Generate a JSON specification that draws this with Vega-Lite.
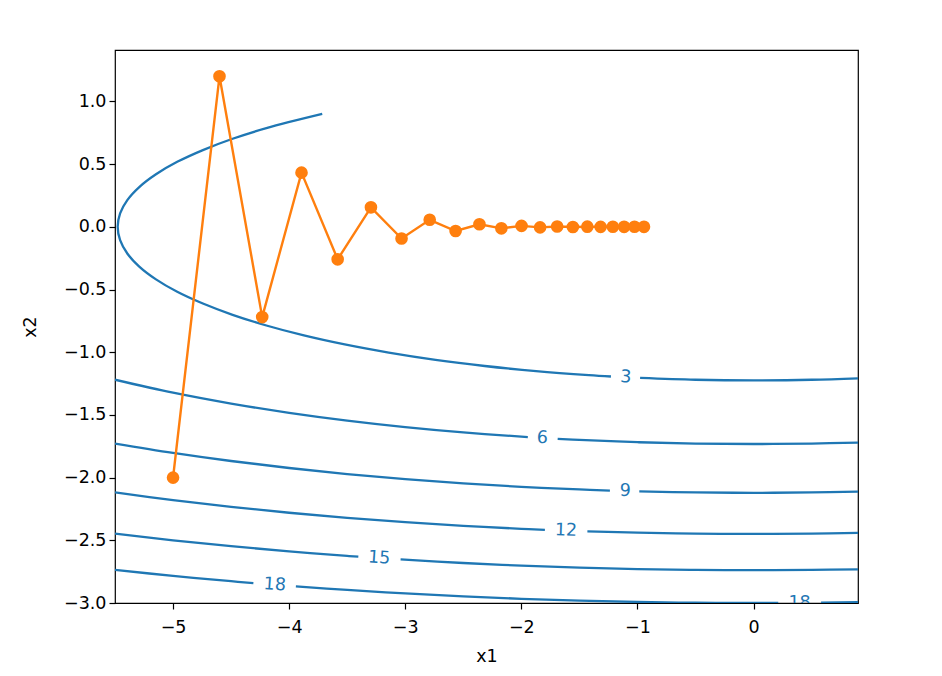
{
  "$schema": "https://vega.github.io/schema/vega-lite/v6.json",
  "autosize": {"type": "none"},
  "width": 743,
  "height": 553,
  "padding": {"left": 115, "top": 50, "right": 84, "bottom": 73},
  "background": "white",
  "config": {
    "view": {"stroke": "black", "strokeWidth": 1.2},
    "font": "DejaVu Sans",
    "axis": {
      "grid": false,
      "domain": false,
      "tickColor": "black",
      "tickWidth": 1.2,
      "tickSize": 6,
      "labelFont": "DejaVu Sans",
      "labelFontSize": 17.5,
      "labelColor": "black",
      "labelPadding": 6,
      "titleFont": "DejaVu Sans",
      "titleFontSize": 17.5,
      "titleFontWeight": "normal",
      "titleColor": "black"
    }
  },
  "datasets": {
    "contours": [
      {"level": 3, "seg": "3a", "i": 1, "x1": -3.715, "x2": 0.9},
      {"level": 3, "seg": "3a", "i": 2, "x1": -4.196, "x2": 0.787},
      {"level": 3, "seg": "3a", "i": 3, "x1": -4.487, "x2": 0.702},
      {"level": 3, "seg": "3a", "i": 4, "x1": -4.743, "x2": 0.612},
      {"level": 3, "seg": "3a", "i": 5, "x1": -4.964, "x2": 0.518},
      {"level": 3, "seg": "3a", "i": 6, "x1": -5.147, "x2": 0.419},
      {"level": 3, "seg": "3a", "i": 7, "x1": -5.291, "x2": 0.317},
      {"level": 3, "seg": "3a", "i": 8, "x1": -5.394, "x2": 0.213},
      {"level": 3, "seg": "3a", "i": 9, "x1": -5.456, "x2": 0.107},
      {"level": 3, "seg": "3a", "i": 10, "x1": -5.477, "x2": 0},
      {"level": 3, "seg": "3a", "i": 11, "x1": -5.456, "x2": -0.107},
      {"level": 3, "seg": "3a", "i": 12, "x1": -5.394, "x2": -0.213},
      {"level": 3, "seg": "3a", "i": 13, "x1": -5.291, "x2": -0.317},
      {"level": 3, "seg": "3a", "i": 14, "x1": -5.147, "x2": -0.419},
      {"level": 3, "seg": "3a", "i": 15, "x1": -4.964, "x2": -0.518},
      {"level": 3, "seg": "3a", "i": 16, "x1": -4.743, "x2": -0.612},
      {"level": 3, "seg": "3a", "i": 17, "x1": -4.487, "x2": -0.702},
      {"level": 3, "seg": "3a", "i": 18, "x1": -4.196, "x2": -0.787},
      {"level": 3, "seg": "3a", "i": 19, "x1": -3.873, "x2": -0.866},
      {"level": 3, "seg": "3a", "i": 20, "x1": -3.521, "x2": -0.938},
      {"level": 3, "seg": "3a", "i": 21, "x1": -3.142, "x2": -1.003},
      {"level": 3, "seg": "3a", "i": 22, "x1": -2.739, "x2": -1.061},
      {"level": 3, "seg": "3a", "i": 23, "x1": -2.315, "x2": -1.11},
      {"level": 3, "seg": "3a", "i": 24, "x1": -1.873, "x2": -1.151},
      {"level": 3, "seg": "3a", "i": 25, "x1": -1.418, "x2": -1.183},
      {"level": 3, "seg": "3a", "i": 26, "x1": -1.228, "x2": -1.1936},
      {"level": 3, "seg": "3b", "i": 27, "x1": -0.977, "x2": -1.2051},
      {"level": 3, "seg": "3b", "i": 28, "x1": -0.5, "x2": -1.2196},
      {"level": 3, "seg": "3b", "i": 29, "x1": 0, "x2": -1.2247},
      {"level": 3, "seg": "3b", "i": 30, "x1": 0.5, "x2": -1.2196},
      {"level": 3, "seg": "3b", "i": 31, "x1": 0.9, "x2": -1.208},

      {"level": 6, "seg": "6a", "i": 1, "x1": -5.5, "x2": -1.2196},
      {"level": 6, "seg": "6a", "i": 2, "x1": -5, "x2": -1.3229},
      {"level": 6, "seg": "6a", "i": 3, "x1": -4.5, "x2": -1.4098},
      {"level": 6, "seg": "6a", "i": 4, "x1": -4, "x2": -1.4832},
      {"level": 6, "seg": "6a", "i": 5, "x1": -3.5, "x2": -1.5452},
      {"level": 6, "seg": "6a", "i": 6, "x1": -3, "x2": -1.5969},
      {"level": 6, "seg": "6a", "i": 7, "x1": -2.5, "x2": -1.6394},
      {"level": 6, "seg": "6a", "i": 8, "x1": -2, "x2": -1.6733},
      {"level": 6, "seg": "6a", "i": 9, "x1": -1.944, "x2": -1.6766},
      {"level": 6, "seg": "6b", "i": 10, "x1": -1.687, "x2": -1.6905},
      {"level": 6, "seg": "6b", "i": 11, "x1": -1.5, "x2": -1.6993},
      {"level": 6, "seg": "6b", "i": 12, "x1": -1, "x2": -1.7176},
      {"level": 6, "seg": "6b", "i": 13, "x1": -0.5, "x2": -1.7285},
      {"level": 6, "seg": "6b", "i": 14, "x1": 0, "x2": -1.7321},
      {"level": 6, "seg": "6b", "i": 15, "x1": 0.5, "x2": -1.7285},
      {"level": 6, "seg": "6b", "i": 16, "x1": 0.9, "x2": -1.7203},

      {"level": 9, "seg": "9a", "i": 1, "x1": -5.5, "x2": -1.7284},
      {"level": 9, "seg": "9a", "i": 2, "x1": -5, "x2": -1.8028},
      {"level": 9, "seg": "9a", "i": 3, "x1": -4.5, "x2": -1.8675},
      {"level": 9, "seg": "9a", "i": 4, "x1": -4, "x2": -1.9235},
      {"level": 9, "seg": "9a", "i": 5, "x1": -3.5, "x2": -1.9717},
      {"level": 9, "seg": "9a", "i": 6, "x1": -3, "x2": -2.0125},
      {"level": 9, "seg": "9a", "i": 7, "x1": -2.5, "x2": -2.0463},
      {"level": 9, "seg": "9a", "i": 8, "x1": -2, "x2": -2.0736},
      {"level": 9, "seg": "9a", "i": 9, "x1": -1.5, "x2": -2.0946},
      {"level": 9, "seg": "9a", "i": 10, "x1": -1.237, "x2": -2.1032},
      {"level": 9, "seg": "9b", "i": 11, "x1": -0.984, "x2": -2.1099},
      {"level": 9, "seg": "9b", "i": 12, "x1": -0.5, "x2": -2.1184},
      {"level": 9, "seg": "9b", "i": 13, "x1": 0, "x2": -2.1213},
      {"level": 9, "seg": "9b", "i": 14, "x1": 0.5, "x2": -2.1184},
      {"level": 9, "seg": "9b", "i": 15, "x1": 0.9, "x2": -2.1118},

      {"level": 12, "seg": "12a", "i": 1, "x1": -5.5, "x2": -2.1184},
      {"level": 12, "seg": "12a", "i": 2, "x1": -5, "x2": -2.1794},
      {"level": 12, "seg": "12a", "i": 3, "x1": -4.5, "x2": -2.2333},
      {"level": 12, "seg": "12a", "i": 4, "x1": -4, "x2": -2.2804},
      {"level": 12, "seg": "12a", "i": 5, "x1": -3.5, "x2": -2.3211},
      {"level": 12, "seg": "12a", "i": 6, "x1": -3, "x2": -2.3558},
      {"level": 12, "seg": "12a", "i": 7, "x1": -2.5, "x2": -2.3848},
      {"level": 12, "seg": "12a", "i": 8, "x1": -2, "x2": -2.4083},
      {"level": 12, "seg": "12a", "i": 9, "x1": -1.797, "x2": -2.4163},
      {"level": 12, "seg": "12b", "i": 10, "x1": -1.431, "x2": -2.4285},
      {"level": 12, "seg": "12b", "i": 11, "x1": -1, "x2": -2.4393},
      {"level": 12, "seg": "12b", "i": 12, "x1": -0.5, "x2": -2.4469},
      {"level": 12, "seg": "12b", "i": 13, "x1": 0, "x2": -2.4495},
      {"level": 12, "seg": "12b", "i": 14, "x1": 0.5, "x2": -2.4469},
      {"level": 12, "seg": "12b", "i": 15, "x1": 0.9, "x2": -2.4412},

      {"level": 15, "seg": "15a", "i": 1, "x1": -5.5, "x2": -2.4469},
      {"level": 15, "seg": "15a", "i": 2, "x1": -5, "x2": -2.5},
      {"level": 15, "seg": "15a", "i": 3, "x1": -4.5, "x2": -2.5471},
      {"level": 15, "seg": "15a", "i": 4, "x1": -4, "x2": -2.5884},
      {"level": 15, "seg": "15a", "i": 5, "x1": -3.5, "x2": -2.6244},
      {"level": 15, "seg": "15a", "i": 6, "x1": -3.404, "x2": -2.6307},
      {"level": 15, "seg": "15b", "i": 7, "x1": -3.04, "x2": -2.6529},
      {"level": 15, "seg": "15b", "i": 8, "x1": -2.5, "x2": -2.681},
      {"level": 15, "seg": "15b", "i": 9, "x1": -2, "x2": -2.7019},
      {"level": 15, "seg": "15b", "i": 10, "x1": -1.5, "x2": -2.718},
      {"level": 15, "seg": "15b", "i": 11, "x1": -1, "x2": -2.7295},
      {"level": 15, "seg": "15b", "i": 12, "x1": -0.5, "x2": -2.7363},
      {"level": 15, "seg": "15b", "i": 13, "x1": 0, "x2": -2.7386},
      {"level": 15, "seg": "15b", "i": 14, "x1": 0.5, "x2": -2.7363},
      {"level": 15, "seg": "15b", "i": 15, "x1": 0.9, "x2": -2.7312},

      {"level": 18, "seg": "18a", "i": 1, "x1": -5.5, "x2": -2.7363},
      {"level": 18, "seg": "18a", "i": 2, "x1": -5, "x2": -2.7839},
      {"level": 18, "seg": "18a", "i": 3, "x1": -4.5, "x2": -2.8262},
      {"level": 18, "seg": "18a", "i": 4, "x1": -4.308, "x2": -2.8411},
      {"level": 18, "seg": "18b", "i": 5, "x1": -3.942, "x2": -2.8676},
      {"level": 18, "seg": "18b", "i": 6, "x1": -3.5, "x2": -2.8961},
      {"level": 18, "seg": "18b", "i": 7, "x1": -3, "x2": -2.924},
      {"level": 18, "seg": "18b", "i": 8, "x1": -2.5, "x2": -2.9475},
      {"level": 18, "seg": "18b", "i": 9, "x1": -2, "x2": -2.9665},
      {"level": 18, "seg": "18b", "i": 10, "x1": -1.5, "x2": -2.9812},
      {"level": 18, "seg": "18b", "i": 11, "x1": -1, "x2": -2.9917},
      {"level": 18, "seg": "18b", "i": 12, "x1": -0.5, "x2": -2.9979},
      {"level": 18, "seg": "18b", "i": 13, "x1": 0, "x2": -3.0},
      {"level": 18, "seg": "18b", "i": 14, "x1": 0.213, "x2": -2.9996},
      {"level": 18, "seg": "18c", "i": 15, "x1": 0.582, "x2": -2.9972},
      {"level": 18, "seg": "18c", "i": 16, "x1": 0.9, "x2": -2.9932}
    ],
    "labels": [
      {"label": "3", "group": "a", "x1": -1.1, "x2": -1.1998},
      {"label": "6", "group": "a", "x1": -1.82, "x2": -1.6843},
      {"label": "9", "group": "b", "x1": -1.105, "x2": -2.1069},
      {"label": "12", "group": "b", "x1": -1.615, "x2": -2.4227},
      {"label": "15", "group": "c", "x1": -3.224, "x2": -2.642},
      {"label": "18", "group": "c", "x1": -4.124, "x2": -2.8548},
      {"label": "18", "group": "d", "x1": 0.397, "x2": -2.9984}
    ],
    "path": [
      {"k": 0, "x1": -5.0, "x2": -2.0},
      {"k": 1, "x1": -4.6, "x2": 1.2},
      {"k": 2, "x1": -4.232, "x2": -0.72},
      {"k": 3, "x1": -3.8934, "x2": 0.432},
      {"k": 4, "x1": -3.582, "x2": -0.2592},
      {"k": 5, "x1": -3.2954, "x2": 0.1555},
      {"k": 6, "x1": -3.0318, "x2": -0.0933},
      {"k": 7, "x1": -2.7892, "x2": 0.056},
      {"k": 8, "x1": -2.5661, "x2": -0.0336},
      {"k": 9, "x1": -2.3608, "x2": 0.0202},
      {"k": 10, "x1": -2.1719, "x2": -0.0121},
      {"k": 11, "x1": -1.9982, "x2": 0.0073},
      {"k": 12, "x1": -1.8383, "x2": -0.0044},
      {"k": 13, "x1": -1.6913, "x2": 0.0026},
      {"k": 14, "x1": -1.556, "x2": -0.0016},
      {"k": 15, "x1": -1.4315, "x2": 0.0009},
      {"k": 16, "x1": -1.317, "x2": -0.0006},
      {"k": 17, "x1": -1.2116, "x2": 0.0003},
      {"k": 18, "x1": -1.1147, "x2": -0.0002},
      {"k": 19, "x1": -1.0255, "x2": 0.0001},
      {"k": 20, "x1": -0.9435, "x2": -0.0001}
    ]
  },
  "encoding": {
    "x": {
      "field": "x1",
      "type": "quantitative",
      "title": "x1",
      "scale": {"domain": [-5.5, 0.9], "nice": false, "zero": false},
      "axis": {"values": [-5, -4, -3, -2, -1, 0], "format": "d", "labelPadding": 9, "titlePadding": 12}
    },
    "y": {
      "field": "x2",
      "type": "quantitative",
      "title": "x2",
      "scale": {"domain": [-3.0, 1.41], "nice": false, "zero": false},
      "axis": {"values": [-3, -2.5, -2, -1.5, -1, -0.5, 0, 0.5, 1], "format": ".1f", "labelPadding": 3, "titlePadding": 24}
    }
  },
  "layer": [
    {
      "data": {"name": "contours"},
      "mark": {"type": "line", "color": "#1f77b4", "strokeWidth": 2.3, "interpolate": "catmull-rom", "clip": true},
      "encoding": {
        "detail": {"field": "seg", "type": "nominal"},
        "order": {"field": "i", "type": "quantitative"}
      }
    },
    {
      "data": {"name": "labels"},
      "transform": [{"filter": "datum.group == 'a'"}],
      "mark": {"type": "text", "color": "#1f77b4", "fontSize": 17.5, "baseline": "middle", "align": "center", "angle": 3, "clip": true},
      "encoding": {"text": {"field": "label", "type": "nominal"}}
    },
    {
      "data": {"name": "labels"},
      "transform": [{"filter": "datum.group == 'b'"}],
      "mark": {"type": "text", "color": "#1f77b4", "fontSize": 17.5, "baseline": "middle", "align": "center", "angle": 2, "clip": true},
      "encoding": {"text": {"field": "label", "type": "nominal"}}
    },
    {
      "data": {"name": "labels"},
      "transform": [{"filter": "datum.group == 'c'"}],
      "mark": {"type": "text", "color": "#1f77b4", "fontSize": 17.5, "baseline": "middle", "align": "center", "angle": 4, "clip": true},
      "encoding": {"text": {"field": "label", "type": "nominal"}}
    },
    {
      "data": {"name": "labels"},
      "transform": [{"filter": "datum.group == 'd'"}],
      "mark": {"type": "text", "color": "#1f77b4", "fontSize": 17.5, "baseline": "middle", "align": "center", "clip": true},
      "encoding": {"text": {"field": "label", "type": "nominal"}}
    },
    {
      "data": {"name": "path"},
      "mark": {"type": "line", "color": "#ff7f0e", "strokeWidth": 2.4},
      "encoding": {"order": {"field": "k", "type": "quantitative"}}
    },
    {
      "data": {"name": "path"},
      "mark": {"type": "point", "filled": true, "color": "#ff7f0e", "opacity": 1, "size": 160, "shape": "circle"},
      "encoding": {}
    }
  ]
}
